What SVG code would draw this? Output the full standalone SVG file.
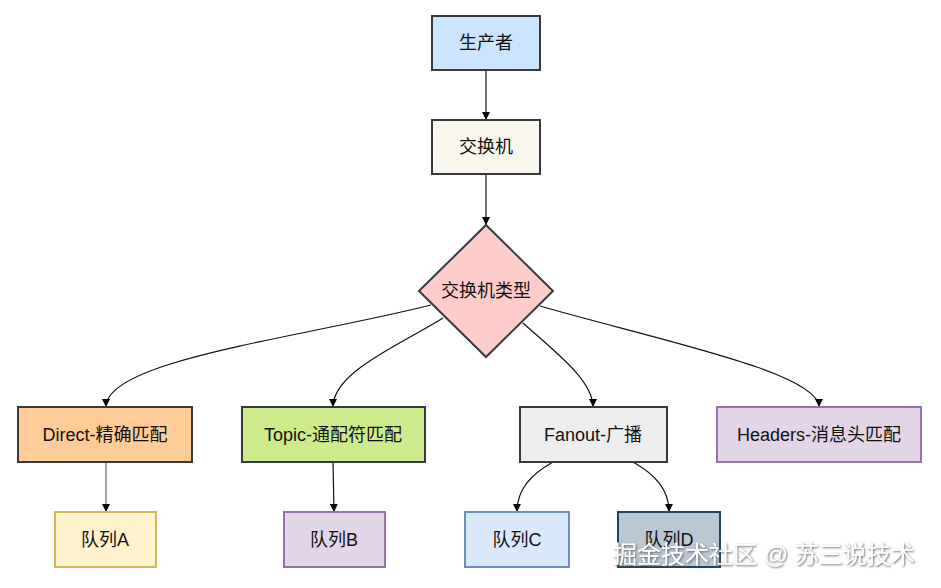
<svg xmlns="http://www.w3.org/2000/svg" width="941" height="588" viewBox="0 0 941 588">
<defs>
<marker id="arr" viewBox="0 0 10 10" refX="10" refY="5" markerWidth="8" markerHeight="8" markerUnits="userSpaceOnUse" orient="auto">
<path d="M0,0 L10,5 L0,10 Z" fill="#000"/>
</marker>
<filter id="sh" x="-5%" y="-20%" width="110%" height="140%">
<feDropShadow dx="1" dy="1" stdDeviation="1" flood-color="#555" flood-opacity="0.9"/>
</filter>
</defs>
<style>
.n{stroke-width:2}
.t{font-family:"Liberation Sans","Noto Sans CJK SC",sans-serif;font-size:18px;fill:#111;text-anchor:middle;dominant-baseline:central}
.c{fill:none;stroke:#111;stroke-width:1.2;marker-end:url(#arr)}
</style>
<rect width="941" height="588" fill="#fff"/>
<g id="connectors">
<path class="c" d="M486,70 L486,120"/>
<path class="c" d="M486,174 L486,225"/>
<path class="c" d="M431,305 C300,338 106,360 106,407"/>
<path class="c" d="M443,318 C400,345 333,372 333,407"/>
<path class="c" d="M523,323 C555,352 593,380 593,407"/>
<path class="c" d="M540,306 C650,338 819,372 819,407"/>
<path class="c" d="M106,462 L106,512" style="stroke:#666"/>
<path class="c" d="M333,462 L334,512"/>
<path class="c" d="M553,462 C530,475 517,490 517,512"/>
<path class="c" d="M633,462 C656,475 669,490 669,512"/>
</g>
<g id="producer"><rect class="n" x="432" y="16" width="108" height="54" fill="#cce5ff" stroke="#36393d"/><text class="t" x="486" y="43">生产者</text></g>
<g id="exchange"><rect class="n" x="432" y="120" width="108" height="54" fill="#f9f7ed" stroke="#36393d"/><text class="t" x="486" y="147">交换机</text></g>
<g id="type"><path class="n" d="M486,225 L553,291 L486,357 L419,291 Z" fill="#ffcccc" stroke="#36393d"/><text class="t" x="486" y="291">交换机类型</text></g>
<g id="direct"><rect class="n" x="18" y="407" width="174" height="55" fill="#ffcc99" stroke="#36393d"/><text class="t" x="105" y="435">Direct-精确匹配</text></g>
<g id="topic"><rect class="n" x="242" y="407" width="183" height="55" fill="#cdeb8b" stroke="#36393d"/><text class="t" x="333" y="435">Topic-通配符匹配</text></g>
<g id="fanout"><rect class="n" x="520" y="407" width="147" height="55" fill="#eeeeee" stroke="#36393d"/><text class="t" x="593" y="435">Fanout-广播</text></g>
<g id="headers"><rect class="n" x="717" y="407" width="204" height="55" fill="#e1d5e7" stroke="#9673a6"/><text class="t" x="819" y="435">Headers-消息头匹配</text></g>
<g id="qa"><rect class="n" x="55" y="512" width="101" height="55" fill="#fff2cc" stroke="#d6b656"/><text class="t" x="105" y="540">队列A</text></g>
<g id="qb"><rect class="n" x="284" y="512" width="101" height="55" fill="#e1d5e7" stroke="#9673a6"/><text class="t" x="334" y="540">队列B</text></g>
<g id="qc"><rect class="n" x="465" y="512" width="104" height="55" fill="#dae8fc" stroke="#6c8ebf"/><text class="t" x="517" y="540">队列C</text></g>
<g id="qd"><rect class="n" x="618" y="512" width="102" height="55" fill="#bac8d3" stroke="#23445d"/><text class="t" x="669" y="540">队列D</text></g>
<text x="613" y="563" filter="url(#sh)" style="font-family:'Liberation Sans','Noto Sans CJK SC',sans-serif;font-size:24px;fill:#fff">掘金技术社区 @ 苏三说技术</text>
</svg>
